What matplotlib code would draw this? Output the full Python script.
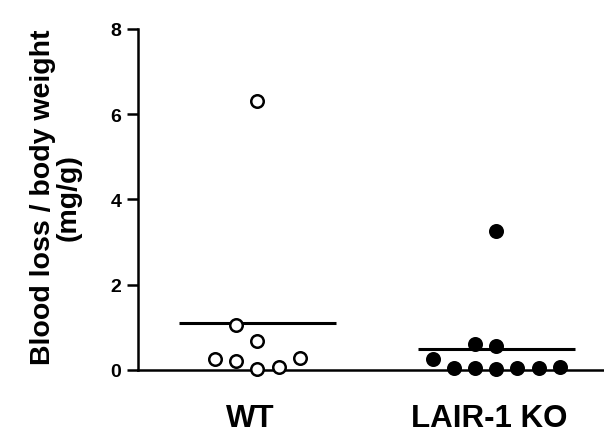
import numpy as np
import matplotlib
matplotlib.use("Agg")
import matplotlib.pyplot as plt
from matplotlib.transforms import ScaledTranslation

plt.rcParams['font.family'] = ['Liberation Sans', 'DejaVu Sans']
plt.rcParams['font.weight'] = 'bold'

groups = ["WT", "LAIR-1 KO"]
wt_values = [6.3, 1.06, 0.68, 0.26, 0.21, 0.02, 0.08, 0.28]
ko_values = [3.27, 0.6, 0.56, 0.26, 0.04, 0.04, 0.03, 0.04, 0.04, 0.06]
y_ticks = [0, 2, 4, 6, 8]

# horizontal scatter slots (in units of one marker step)
wt_slots = [0, -1, 0, -2, -1, 0, 1, 2]
ko_slots = [0, -1, 0, -3, -2, -1, 0, 1, 2, 3]
step = 0.088

fig = plt.figure(figsize=(6.04, 4.39), dpi=100)
ax = fig.add_axes([0.2285, 0.1549, 0.7715, 0.7768])

for i, (vals, slots, face) in enumerate([(wt_values, wt_slots, 'white'),
                                          (ko_values, ko_slots, 'black')]):
    x = i + 1 + np.array(slots) * step
    ax.plot(x, vals, 'o', ms=9, mfc=face, mec='black', mew=1.8,
            clip_on=False, zorder=3)
    m = np.mean(vals)
    ax.plot([i + 1 - 0.33, i + 1 + 0.33], [m, m], color='black', lw=2.2,
            zorder=2, solid_capstyle='butt')

ax.set_xlim(0.5, 2.45)
ax.set_ylim(0, 8)
ax.set_xticks([1, 2])
ax.set_xticklabels(groups, fontsize=22.5, fontweight='bold')
ax.set_yticks(y_ticks)
ax.set_yticklabels([str(t) for t in y_ticks], fontsize=14, fontweight='bold')

ax.tick_params(axis='y', length=8, width=1.8, pad=4)
ax.tick_params(axis='x', length=4, width=1.8, pad=20)

# labels sit a little left of their ticks in the original
shift = ScaledTranslation(-7 / 100, 0, fig.dpi_scale_trans)
for lab in ax.get_xticklabels():
    lab.set_transform(lab.get_transform() + shift)

for s in ['top', 'right']:
    ax.spines[s].set_visible(False)
for s in ['left', 'bottom']:
    ax.spines[s].set_linewidth(1.8)

ax.set_ylabel("Blood loss / body weight\n(mg/g)", fontsize=20.5,
              fontweight='bold', linespacing=0.98)
ax.yaxis.set_label_coords(-0.122, 0.51)

fig.savefig("out.png", dpi=100)
